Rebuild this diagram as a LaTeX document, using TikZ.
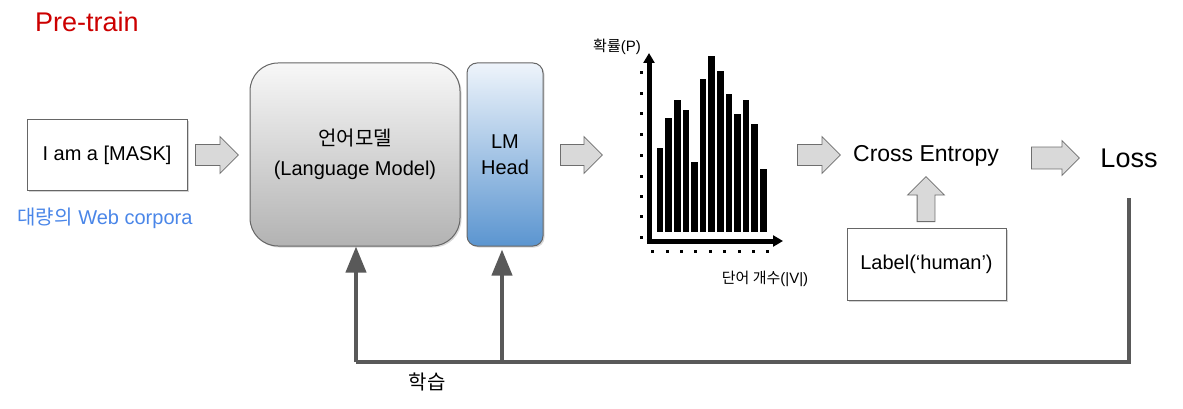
\documentclass[tikz,border=0pt]{standalone}
\usepackage{fontspec}
\setmainfont{Liberation Sans}
\newfontfamily\kr{Noto Sans CJK KR}
\usetikzlibrary{arrows.meta,shapes.arrows,shadows}
\definecolor{titlered}{HTML}{CC0000}
\definecolor{webblue}{HTML}{4A86E8}
\definecolor{arrowfill}{HTML}{D9D9D9}
\definecolor{arrowline}{HTML}{6E6E6E}
\definecolor{headtop}{HTML}{EEF4FB}
\definecolor{headmid}{HTML}{A9C9EC}
\definecolor{headbot}{HTML}{5B95D0}
\tikzset{
txtbox/.style={
 draw=black!60, 
 fill=white, 
 line width=1pt, 
 drop shadow={shadow xshift=1.5pt,shadow yshift=-1.5pt,opacity=.35}, 
 inner sep=0pt
 },
bigarrow/.style={
 single arrow, 
 draw=arrowline, 
 fill=arrowfill, 
 line width=0.8pt, 
 anchor=tail, 
 inner xsep=0pt, 
 inner ysep=10pt, 
 minimum height=43, 
 single arrow head extend=8
 },
uparrow/.style={
 bigarrow, 
 shape border rotate=90, 
 minimum height=45, 
 inner ysep=0pt, 
 inner xsep=8.5pt, 
 single arrow head extend=9.5
 },
feedback/.style={
 draw=black!65, 
 line width=4pt
 },
fbarrow/.style={
 feedback, 
 -{Triangle[width=20pt,length=26pt]}
 },
axis/.style={
 line width=5pt, 
 -{Triangle[width=11pt,length=10pt]}
 }
}

\begin{document}
\begin{tikzpicture}[x=1pt,y=-1pt]
\useasboundingbox (0,0) rectangle (1183,409);
\node[text=titlered,font=\fontsize{27}{32}\selectfont] (title) at (87,22) {Pre-train};
% input
\node[txtbox,minimum width=160,minimum height=70,font=\fontsize{20}{24}\selectfont] (input) at (107,155) {I am a [MASK]};
\node[text=webblue,font=\fontsize{20}{24}\selectfont] (corpus) at (105,218) {{\kr 대량의} Web corpora};
\node[bigarrow] (a1) at (195,155) {};
% model
\node[draw=black!60,line width=1pt,rounded corners=28pt,top color=black!3,bottom color=black!30,
 drop shadow={shadow xshift=1.5pt,shadow yshift=-1.5pt,opacity=.3},
 minimum width=210,minimum height=183,align=center,font=\fontsize{20}{30}\selectfont] (lm) at (355,154.5) {{\kr 언어모델}\\(Language Model)};
\node[draw=black!60,line width=1pt,rounded corners=10pt,top color=headtop,middle color=headmid,bottom color=headbot,
 drop shadow={shadow xshift=1.5pt,shadow yshift=-1.5pt,opacity=.3},
 minimum width=76,minimum height=183,align=center,font=\fontsize{20}{26}\selectfont] (head) at (505,154.5) {LM\\Head};
\node[bigarrow,minimum height=42] (a2) at (560,155) {};
% histogram
\foreach \t [count=\i from 0] in {148,118,100,110,162,79,56,71,94,114,100,124,169}
 \fill (656.7+8.6*\i,232) rectangle (663.4+8.6*\i,\t);
\foreach \yy in {73,94,114,135,155,176,196,216,237}
 \fill (639.5,\yy-1.5) rectangle (642.5,\yy+1.5);
\foreach \xx in {652,667,681,695,710,724,739,753,767}
 \fill (\xx-1.5,249.5) rectangle (\xx+1.5,252.5);
\draw[axis] (649,243.5) -- (649,53);
\draw[axis] (646.5,241) -- (783,241);
\node[font=\fontsize{15}{18}\selectfont] (py) at (617,47) {{\kr 확률}(P)};
\node[font=\fontsize{15}{18}\selectfont] (vx) at (765,279) {{\kr 단어 개수}(|V|)};
\node[bigarrow] (a3) at (797,155) {};
% loss
\node[font=\fontsize{23}{28}\selectfont] (ce) at (926,156) {Cross Entropy};
\node[txtbox,minimum width=159,minimum height=72,font=\fontsize{20}{24}\selectfont] (label) at (926.5,264) {Label(‘human’)};
\node[uparrow] (a4) at (926,222) {};
\node[bigarrow,minimum height=48,inner ysep=10.5pt,single arrow head extend=6.5] (a5) at (1031,158) {};
\node[font=\fontsize{27}{32}\selectfont] (loss) at (1129,158) {Loss};
% training signal
\coordinate (fbR) at (1129,198);
\coordinate (fbL) at (356,362);
\coordinate (fbM) at (502,362);
\draw[feedback] (fbR) -- (fbR |- fbL) -- (fbL);
\draw[fbarrow] (fbL) -- (fbL |- lm.south);
\draw[fbarrow] (fbM) -- ([yshift=-3pt]fbM |- head.south);
\node[font=\fontsize{20}{24}\selectfont] (learn) at (427,382) {\kr 학습};
\end{tikzpicture}
\end{document}
